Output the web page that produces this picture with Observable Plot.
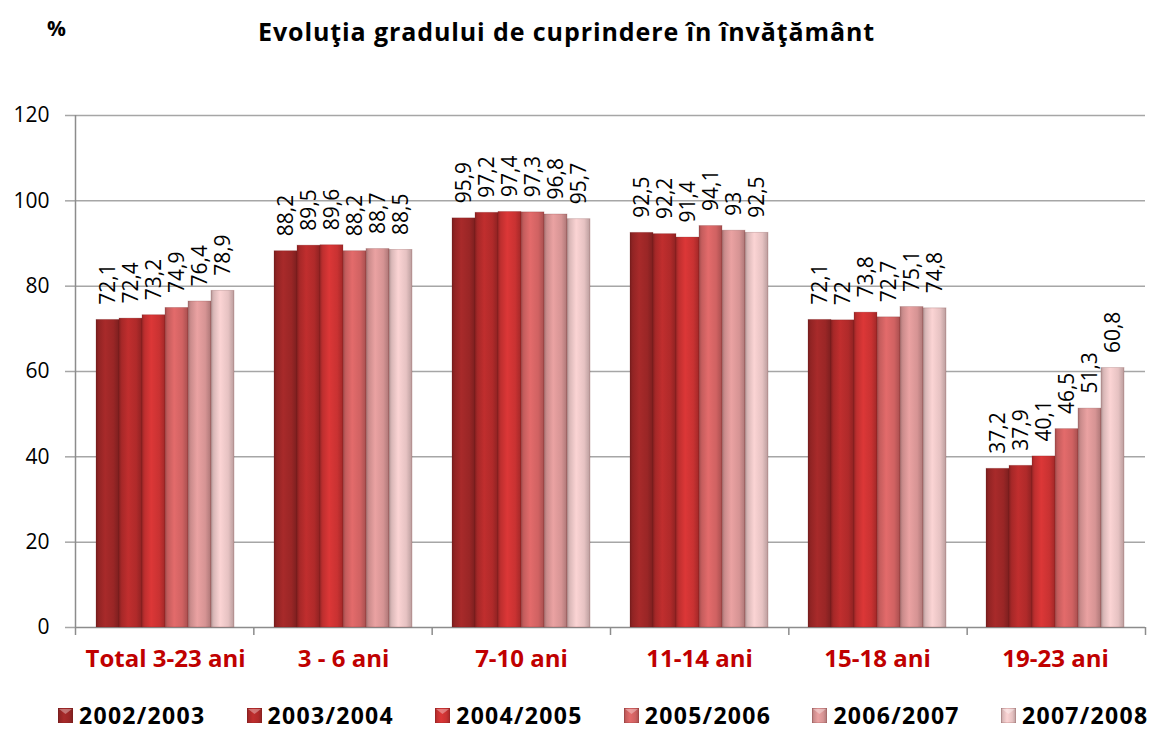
<!DOCTYPE html>
<html>
<head>
<meta charset="utf-8">
<script src="https://cdn.jsdelivr.net/npm/d3@7"></script>
<script src="https://cdn.jsdelivr.net/npm/@observablehq/plot@0.6"></script>
<style>
  html, body { margin: 0; padding: 0; background: #fff; }
  #wrap { position: relative; width: 1158px; height: 733px; font-family: "Open Sans", sans-serif; overflow: hidden; }
  #wrap svg.layer { position: absolute; left: 0; top: 0; }
  #title { position: absolute; left: 0; width: 1133px; top: 14px; text-align: center; font-weight: bold; font-size: 25px; letter-spacing: 0.9px; color: #000; }
  #pct { position: absolute; left: 47px; top: 14px; font-weight: bold; font-size: 21px; color: #000; }
  #legend { position: absolute; left: 58px; top: 700px; height: 31px; white-space: nowrap; }
  .item { position: absolute; top: 0; height: 31px; display: flex; align-items: center; font-weight: bold; font-size: 23px; letter-spacing: 1.3px; color: #000; }
  .item span { line-height: 31px; display: block; height: 31px; }
  .item svg { margin-right: 6px; }
</style>
</head>
<body>
<div id="wrap">
  <svg width="0" height="0" style="position:absolute">
    <defs id="grads"></defs>
  </svg>
  <div id="pct">%</div>
  <div id="title">Evoluţia gradului de cuprindere în învăţământ</div>
  <div id="legend"></div>
</div>
<script>
// ---- data ----
const categories = ["Total 3-23 ani", "3 - 6 ani", "7-10 ani", "11-14 ani", "15-18 ani", "19-23 ani"];
const years = ["2002/2003", "2003/2004", "2004/2005", "2005/2006", "2006/2007", "2007/2008"];
const s2002 = [72.1, 88.2, 95.9, 92.5, 72.1, 37.2];
const s2003 = [72.4, 89.5, 97.2, 92.2, 72.0, 37.9];
const s2004 = [73.2, 89.6, 97.4, 91.4, 73.8, 40.1];
const s2005 = [74.9, 88.2, 97.3, 94.1, 72.7, 46.5];
const s2006 = [76.4, 88.7, 96.8, 93.0, 75.1, 51.3];
const s2007 = [78.9, 88.5, 95.7, 92.5, 74.8, 60.8];
const yTicks = [0, 20, 40, 60, 80, 100, 120];
const colors = ["#9a2626", "#b02a2a", "#c93232", "#d06262", "#d69494", "#e6c2c2"];

const series = [s2002, s2003, s2004, s2005, s2006, s2007];
const data = [];
categories.forEach((c, i) => years.forEach((y, j) => data.push({cat: c, year: y, value: series[j][i]})));
const fmt = v => String(v).replace(".", ",");

// gradients
const defs = d3.select("#grads");
colors.forEach((c, i) => {
  const g = defs.append("linearGradient").attr("id", "g" + i).attr("x1", "0").attr("x2", "1").attr("y1", "0").attr("y2", "0");
  const base = d3.color(c);
  [[0, base.darker(0.7)], [0.12, base.darker(0.15)], [0.4, base.brighter(0.25)], [0.75, base], [1, base.darker(0.6)]]
    .forEach(([o, col]) => g.append("stop").attr("offset", o).attr("stop-color", col.formatHex()));
});
const gradUrls = colors.map((c, i) => `url(#g${i})`);

const W = 1158, H = 733, MT = 115, MB = 106, ML = 75, MR = 13;

// background layer: grid, axes, separators
const bg = Plot.plot({
  width: W, height: H, marginTop: MT, marginBottom: MB, marginLeft: ML, marginRight: MR,
  style: {background: "transparent", fontFamily: "Open Sans"},
  x: {type: "linear", domain: [0, categories.length], axis: null},
  y: {domain: [0, 120], axis: null},
  marks: [
    Plot.ruleY(yTicks.slice(1), {stroke: "#a6a6a6", strokeWidth: 1.5}),
    Plot.axisY({ticks: yTicks, tickSize: 10, tickPadding: 16, fontSize: 21, stroke: "#a6a6a6", strokeWidth: 1.5, strokeOpacity: 1, color: "#000", label: null}),
    Plot.ruleX([0], {stroke: "#8c8c8c", strokeWidth: 1.5}),
    Plot.ruleY([0], {stroke: "#8c8c8c", strokeWidth: 1.5}),
    Plot.axisX({ticks: d3.range(categories.length + 1), tickSize: 8, tickFormat: () => "", stroke: "#8c8c8c", strokeWidth: 1.5, strokeOpacity: 1, label: null})
  ]
});
bg.classList.add("layer");

// bars layer
const fg = Plot.plot({
  width: W, height: H, marginTop: MT, marginBottom: MB, marginLeft: ML, marginRight: MR,
  style: {background: "transparent", fontFamily: "Open Sans"},
  fx: {domain: categories, padding: 0, label: null},
  x: {domain: years, paddingInner: 0, paddingOuter: 0.75, axis: null},
  y: {domain: [0, 120], axis: null},
  color: {domain: years, range: gradUrls},
  marks: [
    Plot.barY(data, {fx: "cat", x: "year", y: "value", fill: "year", stroke: "#6b1a1a", strokeOpacity: 0.25, strokeWidth: 0.8}),
    Plot.text(data, {fx: "cat", x: "year", y: "value", text: d => fmt(d.value), rotate: -90, textAnchor: "start", lineAnchor: "middle", dy: -15, fontSize: 21, fill: "#000"}),
    Plot.axisFx({anchor: "bottom", tickSize: 0, tickPadding: 22, fontSize: 24, fontWeight: "bold", color: "#c00000", label: null})
  ]
});
fg.classList.add("layer");

const wrap = document.getElementById("wrap");
wrap.insertBefore(fg, document.getElementById("pct"));
wrap.insertBefore(bg, fg);

// legend
const legend = d3.select("#legend");
years.forEach((y, i) => {
  const it = legend.append("div").attr("class", "item").style("left", (i * 188.6) + "px");
  const sw = it.append("svg").attr("width", 15).attr("height", 15);
  sw.append("rect").attr("width", 15).attr("height", 15).attr("fill", gradUrls[i]).attr("stroke", "#6b1a1a").attr("stroke-opacity", 0.3);
  sw.append("path").attr("d", "M1,1 L14,1 L7.5,6 Z").attr("fill", "#fff").attr("fill-opacity", 0.35);
  it.append("span").text(y);
});
</script>
</body>
</html>
